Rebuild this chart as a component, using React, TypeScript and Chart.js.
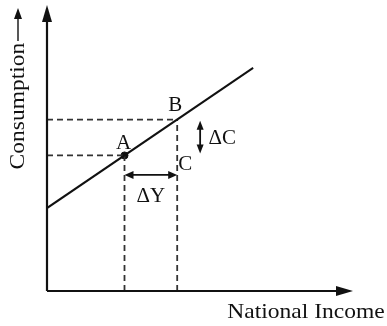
import React, { useEffect, useRef } from "react";
import { Chart, registerables } from "chart.js";

Chart.register(...registerables);

// Data (abstract units)
const lineX = [0, 6.65];
const lineY = [2.9, 7.8];
const pointLabels = ["A", "B"];
const pointX = [2.5, 4.2];
const pointY = [4.74, 5.99];
const deltaYLevel = 4.06; // height of the ΔY arrow
const deltaCPosition = 4.94; // x position of the ΔC arrow
const axisMax = [10, 10];
const xTitle = "National Income";
const yTitle = "Consumption";
const deltaLabels = ["ΔY", "ΔC", "C"];

const INK = "#111";
const SERIF = '"Liberation Serif", "DejaVu Serif", serif';

function arrowHead(ctx: CanvasRenderingContext2D, tx: number, ty: number, angle: number, len: number, wid: number) {
  ctx.save();
  ctx.translate(tx, ty);
  ctx.rotate(angle);
  ctx.beginPath();
  ctx.moveTo(0, 0);
  ctx.lineTo(-len, -wid / 2);
  ctx.lineTo(-len, wid / 2);
  ctx.closePath();
  ctx.fill();
  ctx.restore();
}

function stretchedText(ctx: CanvasRenderingContext2D, text: string, cx: number, cy: number, size: number, sx: number, rot = 0) {
  ctx.save();
  ctx.translate(cx, cy);
  ctx.rotate(rot);
  ctx.scale(sx, 1);
  ctx.font = `${size}px ${SERIF}`;
  ctx.textAlign = "center";
  ctx.textBaseline = "middle";
  ctx.fillText(text, 0, 0);
  ctx.restore();
}

const decorPlugin = {
  id: "decor",
  afterDatasetsDraw(chart: any) {
    const { ctx, scales } = chart;
    const xs = scales.x;
    const ys = scales.y;
    const ox = xs.getPixelForValue(0);
    const oy = ys.getPixelForValue(0);
    const right = xs.getPixelForValue(axisMax[0]);
    const top = ys.getPixelForValue(axisMax[1]);
    ctx.save();
    ctx.fillStyle = INK;
    ctx.strokeStyle = INK;
    ctx.setLineDash([]);

    // axes
    ctx.lineWidth = 2.2;
    ctx.beginPath();
    ctx.moveTo(ox, oy);
    ctx.lineTo(ox, top + 12);
    ctx.moveTo(ox, oy);
    ctx.lineTo(right - 18, oy);
    ctx.stroke();
    arrowHead(ctx, ox, top, -Math.PI / 2, 17, 10);
    arrowHead(ctx, right - 4, oy, 0, 17, 10);

    // ΔY arrow
    const ax = xs.getPixelForValue(pointX[0]);
    const bx = xs.getPixelForValue(pointX[1]);
    const ay = ys.getPixelForValue(pointY[0]);
    const by = ys.getPixelForValue(pointY[1]);
    const dyy = ys.getPixelForValue(deltaYLevel);
    ctx.lineWidth = 1.8;
    ctx.beginPath();
    ctx.moveTo(ax + 6, dyy);
    ctx.lineTo(bx - 6, dyy);
    ctx.stroke();
    arrowHead(ctx, ax, dyy, Math.PI, 9, 8);
    arrowHead(ctx, bx, dyy, 0, 9, 8);

    // ΔC arrow
    const dcx = xs.getPixelForValue(deltaCPosition);
    ctx.beginPath();
    ctx.moveTo(dcx, by + 6);
    ctx.lineTo(dcx, ay - 8);
    ctx.stroke();
    arrowHead(ctx, dcx, by + 1, -Math.PI / 2, 9, 7);
    arrowHead(ctx, dcx, ay - 2, Math.PI / 2, 9, 7);

    // labels
    stretchedText(ctx, pointLabels[0], ax - 1, ay - 12, 20, 1.05);
    stretchedText(ctx, pointLabels[1], bx - 2, by - 14, 20, 1.05);
    stretchedText(ctx, deltaLabels[2], bx + 8, ay + 9, 20, 1.05);
    stretchedText(ctx, deltaLabels[0], (ax + bx) / 2 + 0, dyy + 22, 20, 1.05);
    stretchedText(ctx, deltaLabels[1], dcx + 22, (ay + by) / 2 + 1, 20, 1.05);

    // axis titles
    stretchedText(ctx, xTitle, 306, oy + 21, 21, 1.12);
    stretchedText(ctx, yTitle, 18, 106, 21, 1.12, -Math.PI / 2);
    ctx.lineWidth = 1.4;
    ctx.beginPath();
    ctx.moveTo(18, 41);
    ctx.lineTo(18, 16);
    ctx.stroke();
    arrowHead(ctx, 18, 8, -Math.PI / 2, 11, 8);

    ctx.restore();
  },
};

export default function App() {
  const ref = useRef<HTMLCanvasElement | null>(null);
  useEffect(() => {
    document.body.style.margin = "0";
    const canvas = ref.current;
    if (!canvas) return;
    const pts = (xsArr: number[], ysArr: number[]) => xsArr.map((x, i) => ({ x, y: ysArr[i] }));
    const dash = [6, 4];
    const chart = new Chart(canvas, {
      type: "scatter",
      data: {
        datasets: [
          {
            label: "consumption",
            data: pts(lineX, lineY),
            showLine: true,
            borderColor: INK,
            borderWidth: 2,
            pointRadius: 0,
          },
          ...pointX.map((px, i) => ({
            label: "h" + i,
            data: [{ x: 0, y: pointY[i] }, { x: px, y: pointY[i] }],
            showLine: true,
            borderColor: "#333",
            borderWidth: 1.8,
            borderDash: dash,
            pointRadius: 0,
          })),
          ...pointX.map((px, i) => ({
            label: "v" + i,
            data: [{ x: px, y: 0 }, { x: px, y: pointY[i] }],
            showLine: true,
            borderColor: "#333",
            borderWidth: 1.8,
            borderDash: dash,
            pointRadius: 0,
          })),
          {
            label: "A",
            data: [{ x: pointX[0], y: pointY[0] }],
            pointRadius: 3.5,
            backgroundColor: INK,
            borderColor: INK,
          },
        ],
      },
      options: {
        animation: false,
        responsive: false,
        maintainAspectRatio: false,
        layout: { padding: { left: 47, right: 30, top: 5, bottom: 35 } },
        scales: {
          x: { type: "linear", min: 0, max: axisMax[0], display: false },
          y: { type: "linear", min: 0, max: axisMax[1], display: false },
        },
        plugins: { legend: { display: false }, tooltip: { enabled: false } },
      },
      plugins: [decorPlugin],
    } as any);
    return () => chart.destroy();
  }, []);
  return (
    <div style={{ position: "absolute", left: 0, top: 0, width: 387, height: 326, background: "#fff" }}>
      <canvas ref={ref} width={387} height={326} style={{ display: "block" }} />
    </div>
  );
}
